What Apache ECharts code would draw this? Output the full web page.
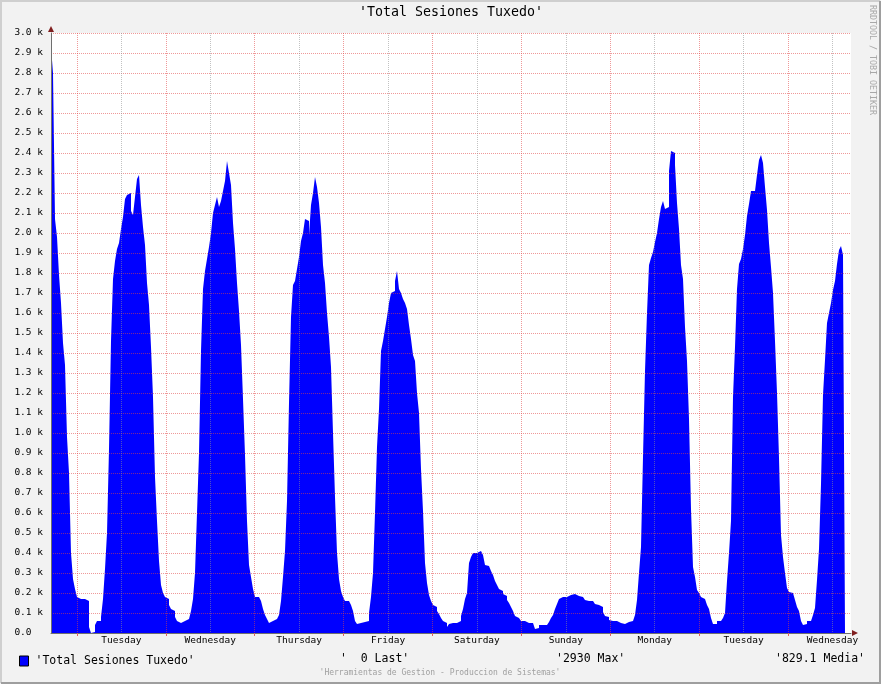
<!DOCTYPE html>
<html>
<head>
<meta charset="utf-8">
<title>Total Sesiones Tuxedo</title>
<script src="https://cdn.jsdelivr.net/npm/echarts@6/dist/echarts.min.js"></script>
<style>
  html, body { margin: 0; padding: 0; background: #f2f2f2; }
  #main { width: 881px; height: 684px; }
</style>
</head>
<body>
<div id="main"></div>
<script>
// --- data ---
var seriesName = 'Total Sesiones Tuxedo';
var dayLabels = ['Tuesday', 'Wednesday', 'Thursday', 'Friday', 'Saturday',
                 'Sunday', 'Monday', 'Tuesday', 'Wednesday'];
var startHour = 17;   // graph starts monday 17:00
var spanHours = 216;  // 9 days shown
var lastValue = 0;
var maxValue = 2930;
var meanValue = 829.1;

// one sample per ~32 min
var sessions = [
  2930, 2800, 2070, 1980, 1790, 1650, 1450, 1340, 980, 800,
  400, 270, 220, 180, 170, 170, 170, 160, 160, 30,
  0, 5, 40, 60, 60, 80, 170, 320, 500, 920,
  1460, 1770, 1860, 1920, 1950, 2020, 2080, 2170, 2190, 2200,
  2110, 2090, 2180, 2270, 2290, 2140, 2030, 1940, 1750, 1640,
  1430, 1180, 780, 560, 360, 240, 200, 180, 170, 140,
  120, 110, 80, 60, 50, 40, 60,
  70, 70, 60, 110, 170, 300, 600, 900, 1410, 1720,
  1810, 1870, 1930, 2000, 2100, 2140, 2180, 2130, 2160, 2210,
  2260, 2360, 2300, 2240, 2050, 1920, 1750, 1610, 1440, 1170,
  890, 560, 340, 280, 220, 180, 180, 170, 160, 120,
  90, 70, 50, 60, 70, 70, 70, 90, 160, 280,
  410, 660, 1150, 1580, 1740, 1760, 1820, 1880, 1960, 2000,
  2070, 2060, 1990, 2140, 2200, 2280, 2230, 2150, 2030,
  1840, 1750, 1600, 1480, 1330, 1000, 680, 400, 270, 210,
  180, 160, 160, 160, 140, 110, 60, 45, 50, 50,
  55, 60, 60, 100, 180, 300, 600, 930, 1120, 1410,
  1460, 1520, 1580, 1650, 1700, 1710, 1760, 1810, 1720, 1700,
  1670, 1650, 1620, 1540, 1470, 1390, 1360, 1200, 1100, 820,
  610, 350, 250, 190, 160, 140, 130, 110, 95, 75,
  60, 50, 30, 45, 50, 50, 50, 50, 60,
  85, 120, 170, 200, 350, 380, 400, 400, 410, 410,
  400, 390, 340, 335, 325, 310, 290, 260, 240, 220,
  210, 195, 185, 165, 150, 130, 110, 85, 75, 70,
  60, 60, 60, 50, 50, 50, 40, 20, 25, 40,
  40, 40, 40, 45, 55, 75, 90, 120, 145, 170,
  180, 185, 180, 190, 190, 200, 195, 185, 185, 180,
  180, 170, 165, 160, 155, 160, 150, 145, 140,
  140, 130, 105, 85, 80, 65, 60, 60, 60, 50,
  50, 50, 45, 45, 55, 60, 60, 60, 90, 165,
  300, 430, 880, 1310, 1600, 1840, 1875, 1905, 1955, 2000,
  2070, 2130, 2160, 2120, 2130, 2310, 2410, 2400, 2340, 2150,
  2020, 1840, 1770, 1530, 1360, 1070, 620, 330, 280, 215,
  200, 180, 170, 170, 140, 120, 75, 45, 45, 60,
  60, 65, 75, 100, 260, 400, 560, 1180, 1430,
  1720, 1845, 1870, 1920, 1990, 2085, 2145, 2210, 2210, 2220,
  2290, 2365, 2390, 2350, 2230, 2115, 1950, 1830, 1700, 1460,
  1200, 875, 490, 380, 300, 225, 205, 200, 190, 165,
  130, 110, 60, 40, 45, 60, 60, 65, 90, 125,
  265, 420, 745, 1190, 1365, 1550, 1600, 1650, 1715, 1760,
  1845, 1915, 1935, 1890, 0, 0, 0
];

var mono = 'DejaVu Sans Mono';
var stepHours = spanHours / sessions.length;
var points = sessions.map(function (v, i) {
  return [startHour + i * stepHours, v];
});
// midnights get the red grid, noons the grey one and the day name
var midnights = dayLabels.map(function (d, i) { return 24 * (i + 1); });
var noons = dayLabels.map(function (d, i) { return 24 * i + 36; });

// rrdtool-like translucent grid, drawn over the area
var majorGrid = 'rgba(225,70,70,0.55)';
var minorGrid = 'rgba(143,143,143,0.55)';
var arrowColor = '#801f1f';

var dom = document.getElementById('main');
var myChart = echarts.init(dom);
var option = {
  animation: false,
  backgroundColor: '#f2f2f2',
  textStyle: { fontFamily: mono },
  legend: {
    left: 14,
    top: 650,
    icon: 'rect',
    itemWidth: 9,
    itemHeight: 10,
    itemStyle: { borderColor: '#000', borderWidth: 1 },
    formatter: "'{name}'",
    textStyle: { fontFamily: mono, fontSize: 11.5, color: '#000', padding: [0, 0, 0, 2] },
    data: [seriesName]
  },
  grid: {
    left: 51, top: 33, width: 800, height: 600,
    show: true, backgroundColor: '#fff', borderWidth: 0
  },
  xAxis: [
    {
      type: 'value',
      min: startHour,
      max: startHour + spanHours,
      z: 5,
      axisLine: { show: true, lineStyle: { color: '#6f6f6f' } },
      axisTick: { show: true, customValues: midnights, length: 3, lineStyle: { color: '#e06060' } },
      axisLabel: {
        customValues: noons,
        margin: 3,
        fontFamily: mono,
        fontSize: 9.5,
        color: '#000',
        formatter: function (v) { return dayLabels[Math.round((v - 36) / 24)]; }
      },
      splitLine: { show: true, lineStyle: { color: majorGrid, width: 1, type: [1, 1] } }
    },
    {
      type: 'value',
      min: startHour,
      max: startHour + spanHours,
      z: 5,
      axisLine: { show: false },
      axisTick: { show: false, customValues: noons },
      axisLabel: { show: false },
      splitLine: { show: true, lineStyle: { color: minorGrid, width: 1, type: [1, 1] } }
    }
  ],
  yAxis: {
    type: 'value',
    min: 0,
    max: 3000,
    interval: 100,
    z: 5,
    axisLine: { show: true, lineStyle: { color: '#6f6f6f' } },
    axisTick: { show: false },
    axisLabel: {
      margin: 8,
      fontFamily: mono,
      fontSize: 9.5,
      color: '#000',
      formatter: function (v) {
        return v === 0 ? '0.0  ' : (v / 1000).toFixed(1) + ' k';
      }
    },
    splitLine: { show: true, lineStyle: { color: majorGrid, width: 1, type: [1, 1] } }
  },
  graphic: [
    // rrdtool shaded frame
    { type: 'polyline', silent: true, shape: { points: [[1, 683], [1, 1], [880, 1]] },
      style: { stroke: '#cfcfcf', lineWidth: 2, fill: null } },
    { type: 'polyline', silent: true, shape: { points: [[1, 683], [880, 683], [880, 1]] },
      style: { stroke: '#9e9e9e', lineWidth: 2, fill: null } },
    // axis arrows
    { type: 'polygon', silent: true, z: 10, shape: { points: [[51, 26], [48, 32], [54, 32]] },
      style: { fill: arrowColor } },
    { type: 'polygon', silent: true, z: 10, shape: { points: [[858, 633], [852, 630], [852, 636]] },
      style: { fill: arrowColor } },
    { type: 'text', silent: true, x: 451, y: 13,
      style: { text: "'" + seriesName + "'", font: '13.3px "DejaVu Sans Mono"', fill: '#000',
               textAlign: 'center', textVerticalAlign: 'middle' } },
    { type: 'text', silent: true, x: 340, y: 659,
      style: { text: "'" + String(lastValue).padStart(3, ' ') + " Last'", font: '11.5px "DejaVu Sans Mono"',
               fill: '#000', textAlign: 'left', textVerticalAlign: 'middle' } },
    { type: 'text', silent: true, x: 556, y: 659,
      style: { text: "'" + maxValue + " Max'", font: '11.5px "DejaVu Sans Mono"',
               fill: '#000', textAlign: 'left', textVerticalAlign: 'middle' } },
    { type: 'text', silent: true, x: 775, y: 659,
      style: { text: "'" + meanValue.toFixed(1) + " Media'", font: '11.5px "DejaVu Sans Mono"',
               fill: '#000', textAlign: 'left', textVerticalAlign: 'middle' } },
    { type: 'text', silent: true, x: 440, y: 673,
      style: { text: "'Herramientas de Gestion - Produccion de Sistemas'", font: '8px "DejaVu Sans Mono"',
               fill: '#a0a0a0', textAlign: 'center', textVerticalAlign: 'middle' } },
    { type: 'text', silent: true, x: 872, y: 5, rotation: -Math.PI / 2,
      style: { text: 'RRDTOOL / TOBI OETIKER', font: '8.3px "DejaVu Sans Mono"',
               fill: '#a8a8a8', textAlign: 'left', textVerticalAlign: 'middle' } }
  ],
  series: [
    {
      name: seriesName,
      type: 'line',
      step: 'end',
      xAxisIndex: 0,
      z: 2,
      symbol: 'none',
      showSymbol: false,
      lineStyle: { width: 0 },
      itemStyle: { color: '#0000ff' },
      areaStyle: { color: '#0000ff', opacity: 1 },
      data: points
    }
  ]
};
myChart.setOption(option, true);
</script>
</body>
</html>
